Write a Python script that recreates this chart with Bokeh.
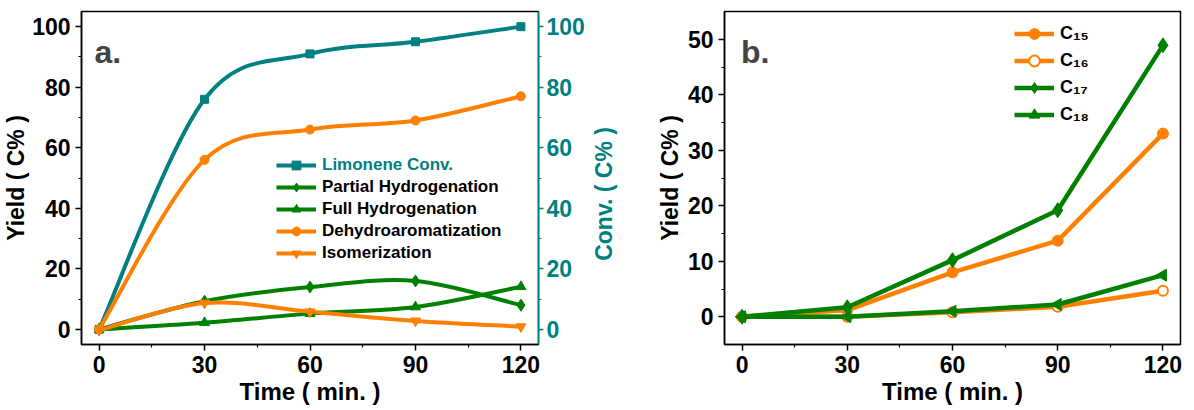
import math
import numpy as np
from bokeh.plotting import figure
from bokeh.models import (Range1d, LinearAxis, FixedTicker, Legend, LegendItem,
                          Label, ColumnDataSource)
from bokeh.layouts import row
from bokeh.embed import file_html
from bokeh.resources import INLINE

# ---------------- data ----------------
time_min = [0, 30, 60, 90, 120]

# panel a
limonene_conv = [0, 76, 91, 95, 100]
partial_hydrogenation = [0, 9.3, 14.0, 16.0, 8.0]
full_hydrogenation = [0, 2.2, 5.2, 7.4, 14.1]
dehydroaromatization = [0, 56, 66, 69, 77]
isomerization = [-0.3, 8.7, 5.8, 2.8, 0.9]

# panel b
c15 = [0, 1.2, 8.0, 13.7, 33.0]
c16 = [0, 0.0, 0.8, 1.8, 4.7]
c17 = [0, 1.7, 10.2, 19.2, 48.9]
c18 = [0, 0.0, 1.0, 2.2, 7.5]

x_ticks = [0, 30, 60, 90, 120]
x_minor = [15, 45, 75, 105]
yield_ticks_a = [0, 20, 40, 60, 80, 100]
yield_minor_a = [10, 30, 50, 70, 90]
yield_ticks_b = [0, 10, 20, 30, 40, 50]
yield_minor_b = [5, 15, 25, 35, 45]

ORANGE = "#FF8000"
GREEN = "#008000"
TEAL = "#008080"
FONT = "Liberation Sans"
NBSP = "\u00a0"


def smooth_segments(xs, ys):
    """Catmull-Rom control points for a smooth connection drawn by p.bezier."""
    xs = np.asarray(xs, float)
    ys = np.asarray(ys, float)
    px = np.concatenate([[xs[0]], xs, [xs[-1]]])
    py = np.concatenate([[ys[0]], ys, [ys[-1]]])
    tx = (px[2:] - px[:-2]) / 2.0
    ty = (py[2:] - py[:-2]) / 2.0
    return ColumnDataSource(dict(
        x0=xs[:-1], y0=ys[:-1], x1=xs[1:], y1=ys[1:],
        cx0=xs[:-1] + tx[:-1] / 3.0, cy0=ys[:-1] + ty[:-1] / 3.0,
        cx1=xs[1:] - tx[1:] / 3.0, cy1=ys[1:] - ty[1:] / 3.0,
    ))


def style_axis(ax, color="black", title_size="23px"):
    ax.axis_line_color = color
    ax.axis_line_width = 1.5
    ax.major_tick_line_color = color
    ax.minor_tick_line_color = color
    ax.major_tick_line_width = 1.5
    ax.minor_tick_line_width = 1.2
    ax.major_tick_out = 6
    ax.major_tick_in = 0
    ax.minor_tick_out = 3
    ax.minor_tick_in = 0
    ax.major_label_text_font = FONT
    ax.major_label_text_font_style = "bold"
    ax.major_label_text_font_size = "23px"
    ax.major_label_text_color = color
    ax.major_label_standoff = 5
    ax.axis_label_text_font = FONT
    ax.axis_label_text_font_style = "bold"
    ax.axis_label_text_font_size = title_size
    ax.axis_label_text_color = color
    ax.axis_label_standoff = 2


def legend_props(**kw):
    base = dict(padding=0, margin=0, spacing=0, border_line_color=None,
                background_fill_alpha=0, label_text_font=FONT,
                label_text_font_style="bold", label_standoff=6, glyph_width=40)
    base.update(kw)
    return base


def make_figure(left, right, frame_w, y_lo, y_hi):
    p = figure(frame_width=frame_w, frame_height=333, min_border_left=left,
               min_border_right=right, min_border_top=11, min_border_bottom=50,
               x_range=Range1d(-5, 125), y_range=Range1d(y_lo, y_hi),
               output_backend="svg", toolbar_location=None,
               x_axis_location=None, y_axis_location=None)
    p.outline_line_color = "black"
    p.outline_line_width = 1.5
    p.xgrid.visible = False
    p.ygrid.visible = False
    return p


# ---------------- panel a ----------------
pa = make_figure(71, 10, 457, -5, 105)
pa.extra_y_ranges = {"conv": Range1d(-5, 105)}

ax_b = LinearAxis(ticker=FixedTicker(ticks=x_ticks, minor_ticks=x_minor), axis_label="Time ( min. )")
style_axis(ax_b, title_size="24px")
pa.add_layout(ax_b, "below")
ax_l = LinearAxis(ticker=FixedTicker(ticks=yield_ticks_a, minor_ticks=yield_minor_a), axis_label="Yield ( C% )")
style_axis(ax_l)
ax_l.axis_label_standoff = 0
pa.add_layout(ax_l, "left")
ax_r = LinearAxis(y_range_name="conv", ticker=FixedTicker(ticks=yield_ticks_a, minor_ticks=yield_minor_a))
style_axis(ax_r, color=TEAL)
ax_r.major_tick_out = 5
ax_r.major_label_standoff = 3
pa.add_layout(ax_r, "right")

series_a = [
    ("Limonene Conv.", limonene_conv, TEAL, "square", 8, "conv"),
    ("Partial Hydrogenation", partial_hydrogenation, GREEN, "diamond", 12, "default"),
    ("Full Hydrogenation", full_hydrogenation, GREEN, "triangle", 10, "default"),
    ("Dehydroaromatization", dehydroaromatization, ORANGE, "circle", 9, "default"),
    ("Isomerization", isomerization, ORANGE, "inverted_triangle", 10, "default"),
]
items_a = []
for name, ys, color, marker, size, rng in series_a:
    seg = pa.bezier(x0="x0", y0="y0", x1="x1", y1="y1", cx0="cx0", cy0="cy0",
                    cx1="cx1", cy1="cy1", source=smooth_segments(time_min, ys),
                    line_color=color, line_width=4, y_range_name=rng)
    pts = pa.scatter(time_min, ys, marker=marker, size=size, fill_color=color,
                     line_color=color, line_width=1, y_range_name=rng)
    items_a.append(LegendItem(label=name, renderers=[seg, pts]))

leg_a1 = Legend(items=items_a[:1], location=(195, 168),
                **legend_props(glyph_height=22, label_height=22, label_text_font_size="17px",
                               label_text_color=TEAL))
leg_a2 = Legend(items=items_a[1:], location=(195, 80),
                **legend_props(glyph_height=22, label_height=22, label_text_font_size="17px",
                               label_text_color="black"))
pa.add_layout(leg_a1)
pa.add_layout(leg_a2)
pa.add_layout(Label(x=-1.3, y=91.5, text="a.", text_font=FONT, text_font_style="bold",
                    text_font_size="32px", text_baseline="alphabetic"))

# ---------------- panel b ----------------
pb = make_figure(130, 6, 456, -5, 55)

bx_b = LinearAxis(ticker=FixedTicker(ticks=x_ticks, minor_ticks=x_minor), axis_label="Time ( min. )")
style_axis(bx_b, title_size="24px")
pb.add_layout(bx_b, "below")
bx_l = LinearAxis(ticker=FixedTicker(ticks=yield_ticks_b, minor_ticks=yield_minor_b), axis_label="Yield ( C% )")
style_axis(bx_l)
pb.add_layout(bx_l, "left")
# title of panel a's right (conversion) axis, which sits in the gap between the panels
conv_title = LinearAxis(ticker=FixedTicker(ticks=[], minor_ticks=[]),
                        axis_label="Conv. ( C% )" + NBSP * 5)
style_axis(conv_title, color=TEAL)
conv_title.axis_line_color = None
conv_title.major_tick_out = 0
conv_title.minor_tick_out = 0
conv_title.major_label_standoff = 0
conv_title.axis_label_standoff = 37
pb.add_layout(conv_title, "left")

series_b = [
    ("C\u2081\u2085", c15, ORANGE, "circle", 11, ORANGE),
    ("C\u2081\u2086", c16, ORANGE, "circle", 10, "white"),
    ("C\u2081\u2087", c17, GREEN, "diamond", 15, GREEN),
    ("C\u2081\u2088", c18, GREEN, "triangle", 12, GREEN),
]
items_b = []
for name, ys, color, marker, size, fill in series_b:
    ln = pb.line(time_min, ys, line_color=color, line_width=4.5)
    angle = math.pi / 2 if name.endswith("\u2088") else 0
    pts = pb.scatter(time_min, ys, marker=marker, size=size, fill_color=fill,
                     line_color=color, line_width=2 if fill == "white" else 1, angle=angle)
    items_b.append(LegendItem(label=name, renderers=[ln, pts]))

leg_b = Legend(items=items_b, location=(290, 216),
               **legend_props(glyph_height=27, label_height=27, label_text_font_size="18px",
                              label_text_color="black"))
pb.add_layout(leg_b)
pb.add_layout(Label(x=-0.3, y=47.7, text="b.", text_font=FONT, text_font_style="bold",
                    text_font_size="32px", text_baseline="alphabetic"))

layout = row(pa, pb, spacing=0)
open("out.html", "w").write(file_html(layout, INLINE))
